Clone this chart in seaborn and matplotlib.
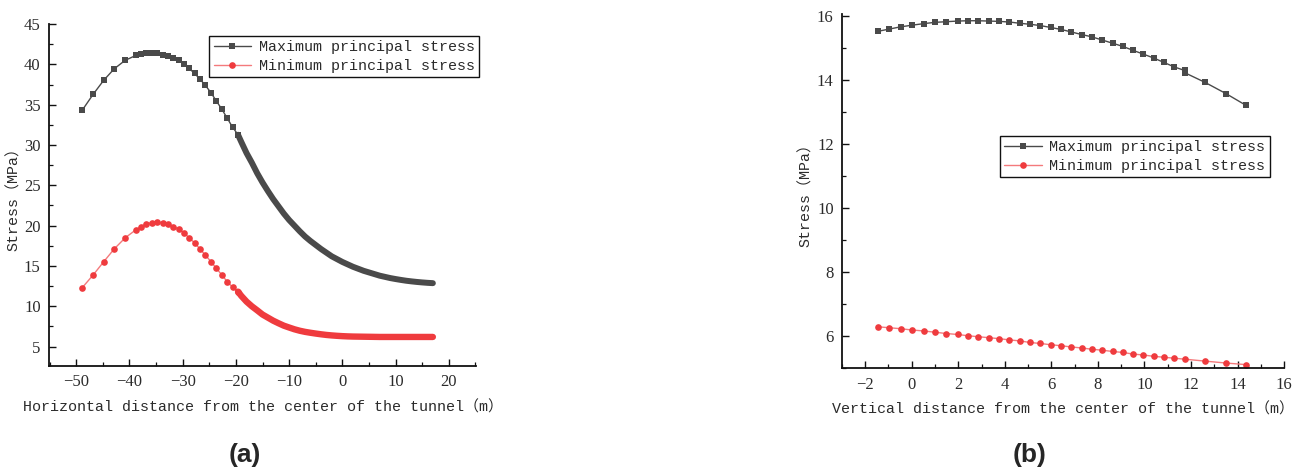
import matplotlib
matplotlib.use("Agg")
import matplotlib.pyplot as plt
import seaborn as sns
import pandas as pd
from matplotlib.ticker import MultipleLocator

# ---------------- data (a): horizontal profile ----------------
h_x_sparse = [-48.85, -46.8, -44.8, -42.85, -40.8, -38.8, -37.8, -36.85, -35.8, -34.8,
              -33.77, -32.77, -31.78, -30.77, -29.77, -28.78, -27.76, -26.77, -25.78,
              -24.7, -23.7, -22.65, -21.65, -20.63]
h_max_sparse = [34.33, 36.3, 38.05, 39.45, 40.5, 41.1, 41.3, 41.45, 41.45, 41.4,
                41.2, 41.07, 40.82, 40.48, 40.07, 39.49, 38.87, 38.18, 37.43,
                36.5, 35.48, 34.45, 33.34, 32.22]
h_min_sparse = [12.32, 13.9, 15.55, 17.12, 18.49, 19.48, 19.89, 20.22, 20.38, 20.43,
                20.38, 20.22, 19.89, 19.57, 19.11, 18.49, 17.87, 17.12, 16.38,
                15.55, 14.73, 13.9, 13.07, 12.37]
h_x_dense = [-19.6, -19, -18, -17, -16, -15, -14, -13, -12, -11, -10, -9, -8, -7, -6,
             -5, -4, -3, -2, -1, 0, 1, 2, 3, 4, 5, 6, 7, 8, 9, 10, 11, 12, 13, 14, 15, 16, 17]
h_max_dense = [31.27, 30.4, 29.0, 27.8, 26.5, 25.35, 24.3, 23.3, 22.4, 21.5, 20.7, 20.0,
               19.3, 18.65, 18.1, 17.6, 17.1, 16.65, 16.2, 15.85, 15.5, 15.2, 14.9, 14.65,
               14.4, 14.2, 14.0, 13.8, 13.65, 13.5, 13.38, 13.27, 13.17, 13.09, 13.02,
               12.96, 12.91, 12.87]
h_min_dense = [11.82, 11.3, 10.58, 10.0, 9.5, 8.98, 8.6, 8.22, 7.9, 7.6, 7.37, 7.15,
               6.97, 6.83, 6.72, 6.62, 6.53, 6.45, 6.39, 6.34, 6.3, 6.27, 6.25, 6.24,
               6.23, 6.22, 6.21, 6.2, 6.2, 6.2, 6.2, 6.2, 6.2, 6.2, 6.2, 6.2, 6.2, 6.2]

# ---------------- data (b): vertical profile ----------------
v_x_max = [-1.46, -0.97, -0.48, 0.0, 0.51, 1.0, 1.48, 1.97, 2.42, 2.86, 3.31, 3.75, 4.2,
           4.65, 5.08, 5.52, 5.97, 6.41, 6.86, 7.3, 7.73, 8.18, 8.63, 9.07, 9.5, 9.95,
           10.39, 10.84, 11.28, 11.73, 11.76, 12.6, 13.5, 14.37]
v_max = [15.51, 15.58, 15.65, 15.70, 15.75, 15.79, 15.81, 15.83, 15.84, 15.84, 15.83,
         15.82, 15.80, 15.76, 15.73, 15.69, 15.63, 15.57, 15.49, 15.41, 15.34, 15.24,
         15.14, 15.04, 14.92, 14.80, 14.68, 14.54, 14.40, 14.29, 14.21, 13.92, 13.57, 13.20]
v_x_min = [-1.46, -0.97, -0.48, 0.0, 0.51, 1.0, 1.48, 1.97, 2.42, 2.86, 3.31, 3.75, 4.2,
           4.65, 5.08, 5.52, 5.97, 6.41, 6.86, 7.3, 7.73, 8.18, 8.63, 9.07, 9.5, 9.95,
           10.39, 10.84, 11.28, 11.73, 12.6, 13.5, 14.37]
v_min = [6.30, 6.27, 6.24, 6.20, 6.17, 6.13, 6.09, 6.06, 6.02, 5.99, 5.96, 5.93, 5.89,
         5.86, 5.81, 5.78, 5.74, 5.71, 5.67, 5.64, 5.60, 5.57, 5.53, 5.50, 5.45, 5.42,
         5.38, 5.35, 5.32, 5.29, 5.23, 5.17, 5.12]

label_max = "Maximum principal stress"
label_min = "Minimum principal stress"
xlabel_a = "Horizontal distance from the center of the tunnel（m）"
xlabel_b = "Vertical distance from the center of the tunnel（m）"
ylabel = "Stress（MPa）"

# ---------------- style ----------------
sns.set_style("white")
plt.rcParams["font.family"] = ["Liberation Mono", "Noto Sans CJK SC"]
plt.rcParams["axes.unicode_minus"] = True

C_MAX = "#4a4a4a"
C_MIN = "#ef3b3e"
C_MIN_LINE = "#f47a7c"
TXT = "#2b2b2b"

fig = plt.figure(figsize=(13.08, 4.70), dpi=100)
ax1 = fig.add_axes([0.0375, 0.2213, 0.3264, 0.7276])
ax2 = fig.add_axes([0.6437, 0.2160, 0.3380, 0.7542])


def style_axes(ax):
    for s in ["top", "right"]:
        ax.spines[s].set_visible(False)
    for s in ["left", "bottom"]:
        ax.spines[s].set_linewidth(1.3)
        ax.spines[s].set_color("#111111")
    ax.tick_params(which="both", bottom=True, left=True, top=False, right=False)
    ax.tick_params(which="major", direction="in", length=5, width=1.0, colors="#111111",
                   labelsize=12, labelcolor=TXT, pad=6)
    ax.tick_params(which="minor", direction="in", length=3, width=0.9, colors="#111111")
    for lab in ax.get_xticklabels() + ax.get_yticklabels():
        lab.set_fontfamily("Liberation Serif")


# ---------- (a) ----------
h_x_all = h_x_sparse + h_x_dense
df_a = pd.DataFrame({
    "x": h_x_all * 2,
    "stress": h_max_sparse + h_max_dense + h_min_sparse + h_min_dense,
    "series": [label_max] * len(h_x_all) + [label_min] * len(h_x_all),
})
n_sp = len(h_x_sparse)
mark_idx = list(range(n_sp + 1))
sub = df_a[df_a.series == label_max]
sns.lineplot(data=sub, x="x", y="stress", ax=ax1, color=C_MAX, lw=1.0, marker="s",
             markersize=4, markeredgewidth=0, estimator=None, sort=False,
             markevery=mark_idx, label=label_max)
sub = df_a[df_a.series == label_min]
sns.lineplot(data=sub, x="x", y="stress", ax=ax1, color=C_MIN_LINE, lw=1.0, marker="o",
             markersize=4.8, markeredgewidth=0, markerfacecolor=C_MIN, estimator=None,
             sort=False, markevery=mark_idx, label=label_min)
# thick band for the densely sampled section (drawn on top)
sns.lineplot(x=h_x_dense, y=h_max_dense, ax=ax1, color=C_MAX, lw=4.3, estimator=None,
             sort=False, legend=False, solid_capstyle="round", zorder=4)
sns.lineplot(x=h_x_dense, y=h_min_dense, ax=ax1, color=C_MIN, lw=4.6, estimator=None,
             sort=False, legend=False, solid_capstyle="round", zorder=4)

ax1.set_xlim(-55.1, 25.1)
ax1.set_ylim(2.6, 45.0)
ax1.xaxis.set_major_locator(MultipleLocator(10))
ax1.xaxis.set_minor_locator(MultipleLocator(5))
ax1.yaxis.set_major_locator(MultipleLocator(5))
ax1.yaxis.set_minor_locator(MultipleLocator(2.5))
style_axes(ax1)
ax1.set_xlabel(xlabel_a, fontsize=10.8, color=TXT, labelpad=7)
ax1.set_ylabel(ylabel, fontsize=10.8, color=TXT, labelpad=2)
leg1 = ax1.legend(loc="upper left", bbox_to_anchor=(0.375, 0.965), borderaxespad=0,
                  fancybox=False, framealpha=1, edgecolor="#111111", fontsize=10.8,
                  handlelength=2.5, handletextpad=0.5, borderpad=0.3, labelspacing=0.3)
leg1.get_frame().set_linewidth(1.0)

# ---------- (b) ----------
sns.lineplot(x=v_x_max, y=v_max, ax=ax2, color=C_MAX, lw=1.0, marker="s", markersize=4,
             markeredgewidth=0, estimator=None, sort=False, label=label_max)
sns.lineplot(x=v_x_min, y=v_min, ax=ax2, color=C_MIN_LINE, lw=1.0, marker="o",
             markersize=4.8, markeredgewidth=0, markerfacecolor=C_MIN, estimator=None,
             sort=False, label=label_min)
ax2.set_xlim(-3.0, 16.0)
ax2.set_ylim(5.0, 16.05)
ax2.xaxis.set_major_locator(MultipleLocator(2))
ax2.xaxis.set_minor_locator(MultipleLocator(1))
ax2.yaxis.set_major_locator(MultipleLocator(2))
ax2.yaxis.set_minor_locator(MultipleLocator(1))
style_axes(ax2)
ax2.set_xlabel(xlabel_b, fontsize=10.8, color=TXT, labelpad=7)
ax2.set_ylabel(ylabel, fontsize=10.8, color=TXT, labelpad=3)
leg2 = ax2.legend(loc="upper left", bbox_to_anchor=(0.357, 0.656), borderaxespad=0,
                  fancybox=False, framealpha=1, edgecolor="#111111", fontsize=10.8,
                  handlelength=2.5, handletextpad=0.5, borderpad=0.3, labelspacing=0.3)
leg2.get_frame().set_linewidth(1.0)

for leg in (leg1, leg2):
    for t in leg.get_texts():
        t.set_color(TXT)

fig.text(0.187, 0.032, "(a)", ha="center", va="center", fontsize=19, fontweight="bold",
         family="Liberation Sans")
fig.text(0.7875, 0.032, "(b)", ha="center", va="center", fontsize=19, fontweight="bold",
         family="Liberation Sans")

fig.savefig("out.png", dpi=100)
